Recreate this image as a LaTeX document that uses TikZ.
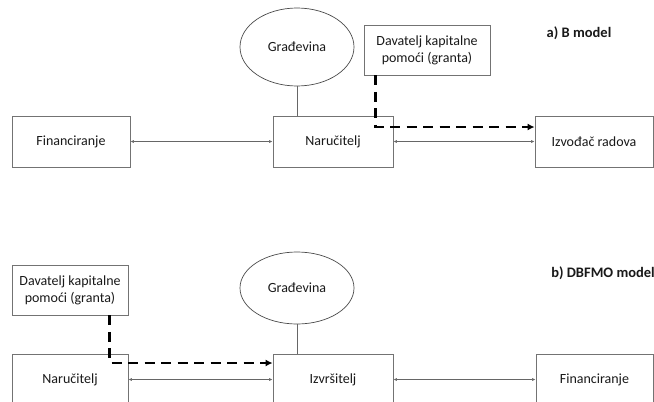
\documentclass[tikz,border=0pt]{standalone}
\usepackage{fontspec}
\setmainfont{Carlito}
\usetikzlibrary{arrows.meta,shapes.geometric,shadows}
\begin{document}
\begin{tikzpicture}[x=1pt,y=-1pt,
  txt/.style={font=\fontsize{14}{17}\selectfont, text=black!90},
  box/.style={txt, draw=black!55, line width=0.8pt, fill=white, minimum height=51pt, inner sep=0pt, align=center,
    drop shadow={shadow xshift=0.7pt, shadow yshift=-0.7pt, fill=black!70, opacity=1}},
  oval/.style={txt, ellipse, draw=black!70, line width=0.7pt, minimum width=114pt, minimum height=78pt, inner sep=0pt},
  link/.style={draw=black!60, line width=0.6pt},
  twoway/.style={link, {Latex[length=3.5pt,width=3pt]}-{Latex[length=3.5pt,width=3pt]}},
  grant/.style={draw=black, line width=2.4pt, dash pattern=on 10pt off 6.5pt, -{Latex[length=7pt,width=7pt]}},
  title/.style={font=\fontsize{14.5}{17}\bfseries\selectfont, text=black!90}
]
\useasboundingbox[fill=white] (0,0) rectangle (654,402);

% ---- a) B model ----
\node[box, minimum width=118pt] (fin1) at (71,141.5) {Financiranje};
\node[box, minimum width=120pt] (nar1) at (333,141.5) {Naručitelj};
\node[box, minimum width=118pt] (izv1) at (594,141.5) {Izvođač radova};
\node[oval] (gra1) at (297,47) {Građevina};
\node[box, minimum width=126pt, minimum height=50pt] (dav1) at (427,50) {Davatelj kapitalne\\pomoći (granta)};
\node[title] (lab1) at (579,33) {a) B model};

\draw[link] (gra1.south) -- (gra1.south |- nar1.north);
\draw[twoway] (fin1.east) -- (nar1.west);
\draw[twoway] (nar1.east) -- (izv1.west);
\draw[grant] ([xshift=12pt]dav1.south west) |- ([yshift=14.5pt]izv1.west);

% ---- b) DBFMO model ----
\node[box, minimum width=116pt, minimum height=50pt] (dav2) at (70,290) {Davatelj kapitalne\\pomoći (granta)};
\node[oval, minimum height=72pt] (gra2) at (297,288) {Građevina};
\node[box, minimum width=116pt] (nar2) at (70,379.5) {Naručitelj};
\node[box, minimum width=120pt] (izr2) at (333,379.5) {Izvršitelj};
\node[box, minimum width=117pt] (fin2) at (594.5,379.5) {Financiranje};
\node[title] (lab2) at (603,273) {b) DBFMO model};

\draw[link] (gra2.south) -- (gra2.south |- izr2.north);
\draw[twoway] (nar2.east) -- (izr2.west);
\draw[twoway] (izr2.east) -- (fin2.west);
\draw[grant] ([xshift=98pt]dav2.south west) |- ([yshift=16.5pt]izr2.west);
\end{tikzpicture}
\end{document}
